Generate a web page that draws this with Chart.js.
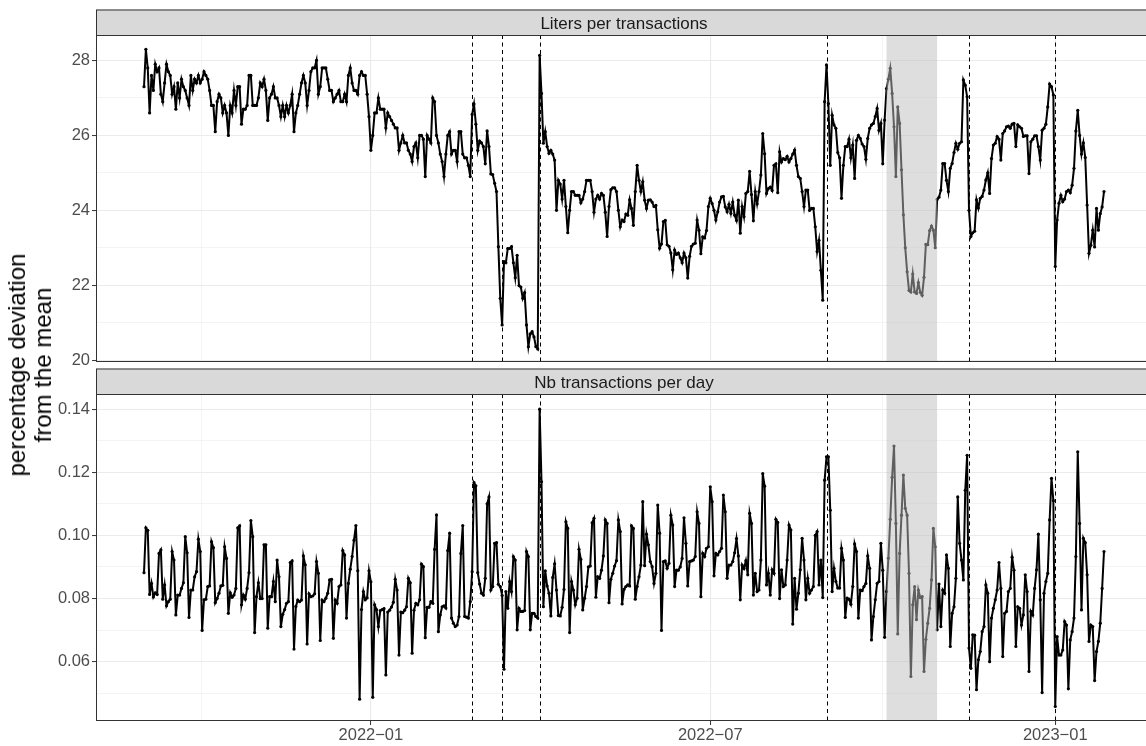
<!DOCTYPE html>
<html>
<head>
<meta charset="utf-8">
<script src="https://cdn.jsdelivr.net/npm/chart.js@4.4.1/dist/chart.umd.min.js"></script>
<style>
  html, body { margin: 0; padding: 0; background: #fff; width: 1146px; height: 746px; overflow: hidden; }
  #wrap { position: relative; width: 1146px; height: 746px; overflow: hidden; }
  .panel { position: absolute; left: 0; }
  #ytitle {
    position: absolute; left: 30px; top: 365px;
    transform: translate(-50%, -50%) rotate(-90deg);
    white-space: nowrap; text-align: center;
    font: 24px/26px "Liberation Sans", Arial, sans-serif; color: #000;
  }
</style>
</head>
<body>
<div id="wrap">
  <canvas id="topChart" class="panel" style="top:0" width="1156" height="365"></canvas>
  <canvas id="bottomChart" class="panel" style="top:365px" width="1156" height="381"></canvas>
  <div id="ytitle">percentage deviation<br>from the mean</div>
</div>
<script>
// first day of both daily series, one value per day after that
const startDate = '2021-09-02';

const litersPerTransaction = [
  27.3, 28.3, 27.8, 26.6, 27.6, 27.2, 27.9, 27.7, 27.8, 27.1,
  26.9, 27.4, 27.9, 27.7, 27.6, 27.1, 27.3, 26.7, 27.4, 27.0,
  27.5, 27.3, 27.2, 27.0, 26.8, 27.6, 27.2, 27.5, 27.4, 27.6,
  27.4, 27.5, 27.7, 27.6, 27.5, 27.2, 26.8, 26.8, 26.1, 26.9,
  27.1, 27.0, 26.6, 26.8, 26.6, 26.0, 26.8, 26.6, 27.2, 26.8,
  27.3, 27.3, 26.3, 26.7, 26.7, 26.8, 27.6, 27.6, 26.8, 26.8,
  26.8, 27.0, 27.4, 27.3, 27.5, 27.2, 26.4, 27.0, 27.1, 27.3,
  27.0, 27.0, 26.8, 26.5, 26.8, 26.5, 26.8, 26.6, 26.8, 27.1,
  26.1, 26.6, 26.8, 27.1, 27.4, 27.6, 27.4, 26.8, 27.2, 27.7,
  27.8, 27.8, 28.0, 27.1, 27.3, 27.8, 27.8, 27.8, 27.5, 27.2,
  27.2, 26.9, 27.0, 27.1, 27.2, 26.9, 26.9, 27.1, 26.9, 27.6,
  27.8, 27.4, 27.2, 27.2, 27.1, 27.6, 27.7, 27.6, 27.6, 27.1,
  26.5, 25.6, 26.0, 26.6, 26.6, 27.0, 26.7, 26.7, 26.7, 26.2,
  26.6, 26.5, 26.4, 26.3, 26.2, 26.2, 25.6, 25.8, 26.0, 25.8,
  25.8, 25.6, 25.5, 25.3, 25.7, 25.8, 25.4, 26.0, 26.0, 25.9,
  24.9, 26.0, 25.9, 25.8, 27.0, 26.9, 26.0, 25.8, 25.5, 25.3,
  24.9, 25.5, 26.0, 26.1, 25.5, 25.6, 25.6, 25.3, 26.1, 26.1,
  25.5, 25.4, 25.4, 25.2, 24.9, 26.56, 26.84, 26.3, 25.6, 25.85,
  25.8, 25.7, 25.24, 26.12, 25.7, 24.97, 24.95, 24.72, 24.5, 23.03,
  21.65, 20.94, 22.63, 22.6, 22.98, 22.98, 23.03, 22.6, 22.2, 22.8,
  21.99, 21.95, 21.65, 21.8, 20.94, 20.36, 20.7, 20.76, 20.62, 20.36,
  20.3, 28.14, 27.12, 25.79, 26.1, 25.7, 25.52, 25.6, 25.5, 25.34,
  24.0, 24.8, 24.7, 24.3, 24.8, 24.1, 23.4, 24.0, 24.5, 24.5,
  24.4, 24.4, 24.4, 24.2, 24.3, 24.5, 24.8, 24.8, 24.8, 24.5,
  23.95, 24.3, 24.4, 24.3, 24.45, 24.4, 23.95, 23.3, 24.1, 24.55,
  24.6, 24.6, 24.5, 24.0, 23.56, 23.74, 23.7, 23.9, 23.87, 24.28,
  24.05, 23.6, 24.5, 25.2, 24.8, 24.5, 24.76, 24.27, 24.05, 24.27,
  24.28, 24.22, 24.1, 24.13, 23.48, 22.99, 23.1, 23.7, 23.73, 23.08,
  23.04, 22.86, 22.41, 22.94, 22.82, 22.86, 22.73, 22.6, 22.86, 22.73,
  22.19, 22.77, 23.04, 23.1, 23.12, 23.74, 23.47, 22.84, 23.29, 23.26,
  23.46, 24.1, 24.32, 24.18, 24.0, 23.74, 23.96, 24.22, 24.36, 24.37,
  24.09, 23.96, 24.16, 23.92, 24.22, 23.87, 23.73, 24.27, 23.39, 24.1,
  23.83, 24.45, 24.5, 25.04, 24.42, 23.72, 24.5, 24.17, 24.5, 24.94,
  26.05, 25.51, 24.45, 24.58, 24.62, 24.53, 25.2, 25.24, 24.47, 25.56,
  25.29, 25.38, 25.35, 25.44, 25.29, 25.38, 25.5, 25.61, 25.2, 24.9,
  24.85, 24.5, 24.1, 24.54, 24.54, 24.0, 24.05, 24.05, 23.56, 22.9,
  23.2, 22.4, 21.6, 26.9, 27.88, 26.85, 25.2, 26.54, 26.28, 26.19,
  25.54, 25.4, 24.32, 25.2, 25.7, 25.7, 25.9, 25.4, 25.74, 24.85,
  25.87, 26.0, 25.92, 25.77, 25.7, 25.36, 25.92, 26.19, 26.28, 26.32,
  26.5, 26.72, 26.14, 26.32, 25.24, 26.41, 27.25, 27.5, 27.79, 27.12,
  26.23, 24.9, 26.76, 26.32, 25.08, 23.88, 23.0, 22.36, 21.86, 21.82,
  22.3, 21.82, 21.78, 22.07, 21.81, 21.73, 22.21, 23.09, 23.08, 23.46,
  23.58, 23.47, 23.0, 24.29, 24.35, 24.54, 25.25, 25.25, 24.8, 24.5,
  25.12, 25.25, 25.54, 25.79, 25.63, 25.79, 25.83, 27.48, 27.34, 27.03,
  24.0, 23.3, 23.4, 23.44, 24.28, 24.06, 24.32, 24.37, 24.54, 24.81,
  25.0, 24.45, 25.38, 25.74, 25.79, 25.97, 25.9, 25.34, 26.05, 26.12,
  26.23, 26.25, 26.19, 26.3, 26.32, 25.7, 26.28, 26.23, 26.19, 25.97,
  25.99, 25.99, 24.98, 25.83, 25.9, 25.99, 25.99, 25.7, 25.34, 26.14,
  26.19, 26.3, 26.76, 27.37, 27.3, 27.08, 22.5, 23.74, 24.19, 24.4,
  24.23, 24.3, 24.5, 24.54, 24.47, 24.67, 25.12, 26.12, 26.67, 26.0,
  25.5, 25.8, 25.41, 24.14, 22.85, 23.07, 23.47, 23.02, 24.05, 23.47,
  23.91, 24.09, 24.5
];

const transactionsPerDay = [
  0.0882,
  0.1024, 0.1016, 0.0813, 0.0848, 0.0805, 0.0818, 0.0813,
  0.0943, 0.0954, 0.0798, 0.0843, 0.0777, 0.079, 0.0798,
  0.0949, 0.0922, 0.0748, 0.0811, 0.0811, 0.0832, 0.085,
  0.0996, 0.0945, 0.074, 0.0827, 0.0827, 0.0869, 0.0885,
  0.0988, 0.0949, 0.0699, 0.0796, 0.0798, 0.0838, 0.084,
  0.098, 0.0961, 0.0787, 0.080, 0.0817, 0.084, 0.0842,
  0.0964, 0.0927, 0.0753, 0.0818, 0.0804, 0.0811, 0.0832,
  0.1024, 0.103, 0.078, 0.0811, 0.0798, 0.0832, 0.0882,
  0.1047, 0.0996, 0.0692, 0.0806, 0.085, 0.080, 0.080,
  0.097, 0.097, 0.0706, 0.0806, 0.0806, 0.0854, 0.079,
  0.0922, 0.0869, 0.0711, 0.075, 0.0765, 0.0785, 0.079,
  0.0914, 0.0919, 0.064, 0.0775, 0.0795, 0.079, 0.0795,
  0.0935, 0.0907, 0.0656, 0.0815, 0.0806, 0.0808, 0.0815,
  0.0917, 0.088, 0.0667, 0.0795, 0.079, 0.0801, 0.0817,
  0.0859, 0.0861, 0.0674, 0.0795, 0.0785, 0.0838, 0.0843,
  0.0952, 0.0938, 0.0738, 0.0848, 0.0893, 0.0933, 0.0985,
  0.1031, 0.0888, 0.0481, 0.0765, 0.0822, 0.0796, 0.0802,
  0.0888, 0.0853, 0.0487, 0.078, 0.0765, 0.0711, 0.0762,
  0.0765, 0.0768, 0.0558, 0.0757, 0.0763, 0.0773, 0.0788,
  0.0861, 0.0827, 0.0621, 0.0757, 0.0755, 0.0763, 0.0774,
  0.0864, 0.085, 0.0627, 0.0763, 0.0785, 0.078, 0.0796,
  0.0909, 0.0901, 0.0676, 0.0772, 0.0772, 0.079, 0.0785,
  0.0956, 0.1065, 0.0695, 0.0748, 0.0774, 0.0777, 0.077,
  0.0952, 0.1007, 0.0738, 0.0722, 0.0711, 0.0716, 0.0743,
  0.0943, 0.1031, 0.0743, 0.0741, 0.0738, 0.079, 0.0885,
  0.1167, 0.1157, 0.0882, 0.0846, 0.0817, 0.0811, 0.0864,
  0.11, 0.1122, 0.0827, 0.0838, 0.0975, 0.0977, 0.0845,
  0.0838, 0.081, 0.0576, 0.0822, 0.0769, 0.0854, 0.0822,
  0.0933, 0.0922, 0.0701, 0.0769, 0.0759, 0.0759, 0.0762,
  0.0949, 0.0933, 0.0701, 0.0753, 0.0753, 0.0743, 0.0738,
  0.14, 0.117, 0.0774, 0.0888, 0.084, 0.0817, 0.0745,
  0.0867, 0.091, 0.0827, 0.0746, 0.0745, 0.0772, 0.0829,
  0.1043, 0.1022, 0.0692, 0.0854, 0.0827, 0.078, 0.0801,
  0.0956, 0.0924, 0.0764, 0.0801, 0.0838, 0.09, 0.0903,
  0.104, 0.1054, 0.0804, 0.0869, 0.0864, 0.089, 0.0935,
  0.1049, 0.1038, 0.0787, 0.0861, 0.088, 0.0903, 0.092,
  0.1049, 0.1012, 0.0783, 0.0829, 0.0838, 0.0843, 0.084,
  0.103, 0.1022, 0.0798, 0.0838, 0.0869, 0.0906, 0.1107,
  0.0904, 0.1004, 0.097, 0.0917, 0.0901, 0.0848, 0.088,
  0.1096, 0.1007, 0.0699, 0.0917, 0.0919, 0.0896, 0.0912,
  0.1064, 0.1033, 0.0838, 0.089, 0.089, 0.09, 0.0927,
  0.1056, 0.0975, 0.084, 0.0917, 0.0919, 0.0922, 0.0933,
  0.1075, 0.1038, 0.0806, 0.0943, 0.0933, 0.0959, 0.0964,
  0.1154, 0.1107, 0.0872, 0.0943, 0.0938, 0.0949, 0.0959,
  0.1128, 0.1075, 0.0864, 0.0906, 0.0906, 0.0917, 0.0945,
  0.099, 0.0935, 0.0796, 0.0906, 0.0895, 0.092, 0.0875,
  0.107, 0.1038, 0.0811, 0.088, 0.0822, 0.0827, 0.0922,
  0.1196, 0.1156, 0.0843, 0.088, 0.0811, 0.0891, 0.088,
  0.1051, 0.1041, 0.08, 0.0891, 0.0838, 0.0843, 0.0922,
  0.1033, 0.1017, 0.0719, 0.0864, 0.0766, 0.0817, 0.0891,
  0.0991, 0.0922, 0.0796, 0.0864, 0.0817, 0.0827, 0.0838,
  0.1, 0.1012, 0.0843, 0.0922, 0.0803, 0.1175, 0.1249, 0.1249, 0.108, 0.0822,
  0.0896, 0.0854, 0.0833, 0.0833, 0.0959, 0.0922, 0.074, 0.0801, 0.0798, 0.0782,
  0.0838, 0.0973, 0.0949, 0.0738, 0.0827, 0.0825, 0.0838, 0.0848, 0.0935, 0.0896,
  0.0669, 0.0743, 0.0796, 0.0848, 0.0854, 0.0975, 0.089, 0.0677, 0.0822, 0.0928,
  0.1051, 0.1184, 0.1283, 0.1038, 0.0688, 0.0943, 0.1064, 0.1191, 0.1086, 0.1064,
  0.088, 0.0553, 0.078, 0.0838, 0.0733, 0.0827, 0.0803, 0.0806, 0.0569, 0.0671,
  0.0722, 0.0769, 0.0859, 0.1022, 0.0964, 0.0701, 0.0846, 0.0711, 0.0827, 0.0817,
  0.0938, 0.0896, 0.0648, 0.0753, 0.0774, 0.0864, 0.1122, 0.0975, 0.0922, 0.0859,
  0.1143, 0.1254, 0.0643, 0.0579, 0.0685, 0.0684, 0.0511, 0.0606, 0.0632, 0.0695,
  0.0711, 0.0843, 0.0817, 0.06, 0.0738, 0.0769, 0.0796, 0.0827, 0.0914, 0.0832,
  0.0616, 0.0753, 0.0759, 0.0822, 0.0832, 0.0931, 0.089, 0.0648, 0.0774, 0.0769,
  0.0716, 0.0748, 0.0875, 0.0822, 0.0569, 0.0759, 0.0748, 0.0832, 0.0891, 0.1004,
  0.0796, 0.0502, 0.0817, 0.0854, 0.088, 0.1049, 0.1181, 0.111, 0.0458, 0.0679,
  0.0621, 0.0621, 0.0637, 0.0727, 0.0716, 0.0514, 0.0669, 0.0695, 0.0738, 0.0933,
  0.1265, 0.1038, 0.0764, 0.0991, 0.0977, 0.0875, 0.0664, 0.0716, 0.0711, 0.054,
  0.0632, 0.0664, 0.0722, 0.0832, 0.0949
];

// dashed event lines and the shaded period
const eventDates = ['2022-02-24', '2022-03-12', '2022-04-01', '2022-09-01', '2022-11-16', '2023-01-01'];
const shadeDates = ['2022-10-03', '2022-10-30'];

// axis breaks
const xBreakDates = ['2022-01-01', '2022-07-01', '2023-01-01'];
const xBreakLabels = ['2022\u221201', '2022\u221207', '2023\u221201'];
const topYTicks = [20, 21, 22, 23, 24, 25, 26, 27, 28];
const topYLabels = ['20', '', '22', '', '24', '', '26', '', '28'];
const bottomYTicks = [0.05, 0.06, 0.07, 0.08, 0.09, 0.10, 0.11, 0.12, 0.13, 0.14];
const bottomYLabels = ['', '0.06', '', '0.08', '', '0.10', '', '0.12', '', '0.14'];

const FONT = '"Liberation Sans", Arial, sans-serif';
Chart.defaults.font.family = FONT;

function dayOf(s) {
  const p = s.split('-').map(Number);
  return (Date.UTC(p[0], p[1] - 1, p[2]) - Date.UTC(2022, 0, 1)) / 864e5;
}

// major breaks plus ggplot style minor breaks half way between them
const majorDays = xBreakDates.map(dayOf);
const xTicks = [], xLabels = [];
const step = majorDays[1] - majorDays[0];
[majorDays[0] - step].concat(majorDays).forEach((d, i, arr) => {
  if (i > 0) { xTicks.push(d); xLabels.push(xBreakLabels[i - 1]); }
  if (i < arr.length - 1) { xTicks.push((d + arr[i + 1]) / 2); xLabels.push(''); }
});
const order = xTicks.map((v, i) => i).sort((a, b) => xTicks[a] - xTicks[b]);
const xTickVals = order.map(i => xTicks[i]);
const xTickLabs = order.map(i => xLabels[i]);

const xMin = -146.6, xMax = 416.6;
const start = dayOf(startDate);

const panelDeco = {
  id: 'panelDeco',
  afterDatasetsDraw(chart, args, o) {
    const { ctx, chartArea: a, scales: { x } } = chart;
    ctx.save();
    ctx.beginPath();
    ctx.rect(a.left, a.top, a.right - a.left, a.bottom - a.top);
    ctx.clip();
    const s0 = x.getPixelForValue(dayOf(shadeDates[0]));
    const s1 = x.getPixelForValue(dayOf(shadeDates[1]));
    ctx.fillStyle = 'rgba(190,190,190,0.5)';
    ctx.fillRect(s0, a.top, s1 - s0, a.bottom - a.top);
    ctx.strokeStyle = '#000';
    ctx.lineWidth = 1;
    ctx.setLineDash([4, 3.5]);
    eventDates.forEach(d => {
      const px = Math.round(x.getPixelForValue(dayOf(d))) + 0.5;
      ctx.beginPath();
      ctx.moveTo(px, a.top);
      ctx.lineTo(px, a.bottom);
      ctx.stroke();
    });
    ctx.restore();
  },
  afterDraw(chart, args, o) {
    const { ctx, chartArea: a } = chart;
    const w = a.right - a.left;
    ctx.save();
    ctx.strokeStyle = '#333333';
    ctx.lineWidth = 1;
    ctx.strokeRect(a.left + 0.5, a.top + 0.5, w - 1, a.bottom - a.top - 1);
    ctx.fillStyle = '#D9D9D9';
    ctx.fillRect(a.left, a.top - o.stripHeight, w, o.stripHeight);
    ctx.strokeRect(a.left + 0.5, a.top - o.stripHeight + 0.5, w - 1, o.stripHeight);
    ctx.fillStyle = '#1A1A1A';
    ctx.font = '17px ' + FONT;
    ctx.textAlign = 'center';
    ctx.textBaseline = 'alphabetic';
    ctx.fillText(o.text, (a.left + a.right) / 2, a.top - 6.5);
    ctx.restore();
  }
};

function makeChart(id, values, yMin, yMax, yTicks, yLabels, text, showX, topPad) {
  const tickFont = { family: FONT, size: 16.5 };
  return new Chart(document.getElementById(id), {
    type: 'line',
    data: {
      datasets: [{
        data: values.map((v, i) => ({ x: start + i, y: v })),
        borderColor: '#000',
        borderWidth: 2,
        pointRadius: 1.6,
        pointBackgroundColor: '#000',
        pointBorderWidth: 0,
        pointHoverRadius: 0,
        tension: 0
      }]
    },
    options: {
      responsive: false,
      animation: false,
      events: [],
      layout: { padding: { top: topPad, right: 4, left: 0, bottom: 0 } },
      plugins: {
        legend: { display: false },
        tooltip: { enabled: false },
        panelDeco: { text: text, stripHeight: 25.5 }
      },
      scales: {
        x: {
          type: 'linear', min: xMin, max: xMax, bounds: 'data',
          afterBuildTicks: s => { s.ticks = xTickVals.map(v => ({ value: v })); },
          afterFit: s => { s.height = showX ? 25 : 3; s.paddingLeft = 0; s.paddingRight = 0; },
          ticks: {
            display: showX, autoSkip: false, maxRotation: 0, padding: 1,
            color: '#4D4D4D', font: tickFont,
            callback: (v, i) => xTickLabs[i]
          },
          grid: {
            color: '#EBEBEB',
            lineWidth: c => xTickLabs[c.index] ? 1.1 : 0.55,
            drawTicks: showX, tickLength: 4, tickWidth: 1,
            tickColor: c => xTickLabs[c.index] ? '#333333' : 'rgba(0,0,0,0)'
          },
          border: { display: false }
        },
        y: {
          type: 'linear', min: yMin, max: yMax, bounds: 'data',
          afterBuildTicks: s => { s.ticks = yTicks.map(v => ({ value: v })); },
          afterFit: s => { s.width = 96; s.paddingTop = 0; s.paddingBottom = 0; },
          ticks: {
            autoSkip: false, padding: 2, color: '#4D4D4D', font: tickFont,
            callback: (v, i) => yLabels[i]
          },
          grid: {
            color: '#EBEBEB',
            lineWidth: c => yLabels[c.index] ? 1.1 : 0.55,
            tickLength: 4, tickWidth: 1,
            tickColor: c => yLabels[c.index] ? '#333333' : 'rgba(0,0,0,0)'
          },
          border: { display: false }
        }
      }
    },
    plugins: [panelDeco]
  });
}

makeChart('topChart', litersPerTransaction, 19.95, 28.68, topYTicks, topYLabels,
  'Liters per transactions', false, 35);
makeChart('bottomChart', transactionsPerDay, 0.0412, 0.1448, bottomYTicks, bottomYLabels,
  'Nb transactions per day', true, 29);

if (litersPerTransaction.length !== transactionsPerDay.length) {
  setTimeout(() => { throw new Error('lengths ' + litersPerTransaction.length + ' ' + transactionsPerDay.length); });
}
</script>
</body>
</html>
